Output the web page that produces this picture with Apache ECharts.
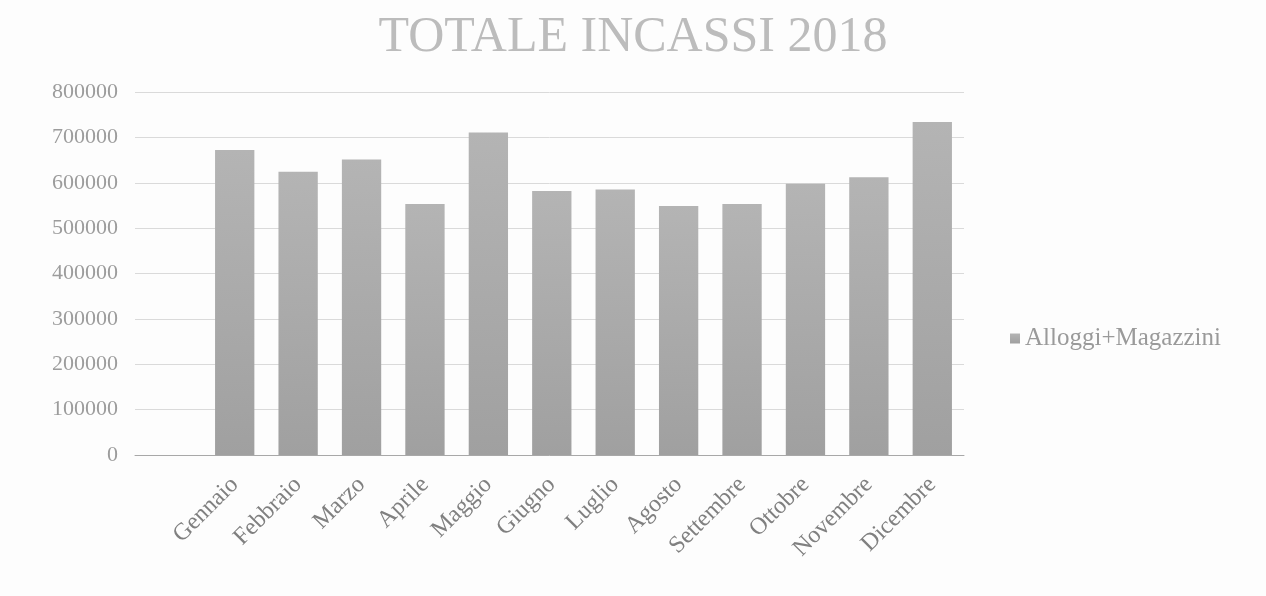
<!DOCTYPE html>
<html lang="it">
<head>
  <meta charset="UTF-8">
  <title>Totale incassi 2018</title>
  <style>
    * { box-sizing: border-box; margin:0; padding:0; }
    body { background: #fdfdfd; }
    #chart { width: 1266px; height: 596px; }
  </style>
  <script src="https://cdn.jsdelivr.net/npm/echarts@6/dist/echarts.min.js"></script>
</head>
<body>
  <div id="chart"></div>
  <script>
    const mesi = ['Gennaio','Febbraio','Marzo','Aprile','Maggio','Giugno','Luglio','Agosto','Settembre','Ottobre','Novembre','Dicembre'];
    const incassi = [672000, 624000, 651000, 553000, 711000, 582000, 585000, 549000, 553000, 598000, 612000, 734000];
    const serieNome = 'Alloggi+Magazzini';
    const yMax = 800000;
    const yPasso = 100000;

    const serif = "'Liberation Serif', 'Times New Roman', serif";

    const chart = echarts.init(document.getElementById('chart'));
    chart.setOption({
      backgroundColor: '#fdfdfd',
      animation: false,
      title: {
        text: 'TOTALE INCASSI 2018',
        left: 'center',
        top: 8,
        textStyle: { fontFamily: serif, fontSize: 50, fontWeight: 'normal', color: '#bcbcbc' }
      },
      legend: {
        data: [serieNome],
        left: 1005,
        top: 321,
        icon: 'rect',
        itemWidth: 10,
        itemHeight: 10,
        itemGap: 10,
        textStyle: { fontFamily: serif, fontSize: 25, color: '#9a9a9a' }
      },
      // grid 0: griglia e asse y a tutta larghezza; grid 1: le barre
      grid: [
        { left: 135, right: 302, top: 92, bottom: 141 },
        { left: 203, right: 302, top: 92, bottom: 141 }
      ],
      xAxis: [
        {
          gridIndex: 0, type: 'value', min: 0, max: 1,
          axisLine: { show: true, lineStyle: { color: '#a8a8a8', width: 1 } },
          axisTick: { show: false }, axisLabel: { show: false }, splitLine: { show: false }
        },
        {
          gridIndex: 1, type: 'category', data: mesi,
          axisLine: { show: false }, axisTick: { show: false },
          axisLabel: {
            rotate: 45, margin: 26, interval: 0,
            fontFamily: serif, fontSize: 24, color: '#808080'
          }
        }
      ],
      yAxis: [
        {
          gridIndex: 0, type: 'value', min: 0, max: yMax, interval: yPasso,
          axisLine: { show: false }, axisTick: { show: false },
          axisLabel: {
            margin: 17, fontFamily: serif, fontSize: 22, color: '#9c9c9c',
            formatter: v => String(v)
          },
          splitLine: { lineStyle: { color: '#dadada', width: 1 } }
        },
        {
          gridIndex: 1, type: 'value', min: 0, max: yMax, interval: yPasso, show: false,
          splitLine: { show: false }
        }
      ],
      series: [{
        name: serieNome,
        type: 'bar',
        xAxisIndex: 1,
        yAxisIndex: 1,
        data: incassi,
        barWidth: '62%',
        itemStyle: {
          color: new echarts.graphic.LinearGradient(0, 0, 0, 1, [
            { offset: 0, color: '#b4b4b4' },
            { offset: 1, color: '#a0a0a0' }
          ])
        }
      }]
    });
  </script>
</body>
</html>
